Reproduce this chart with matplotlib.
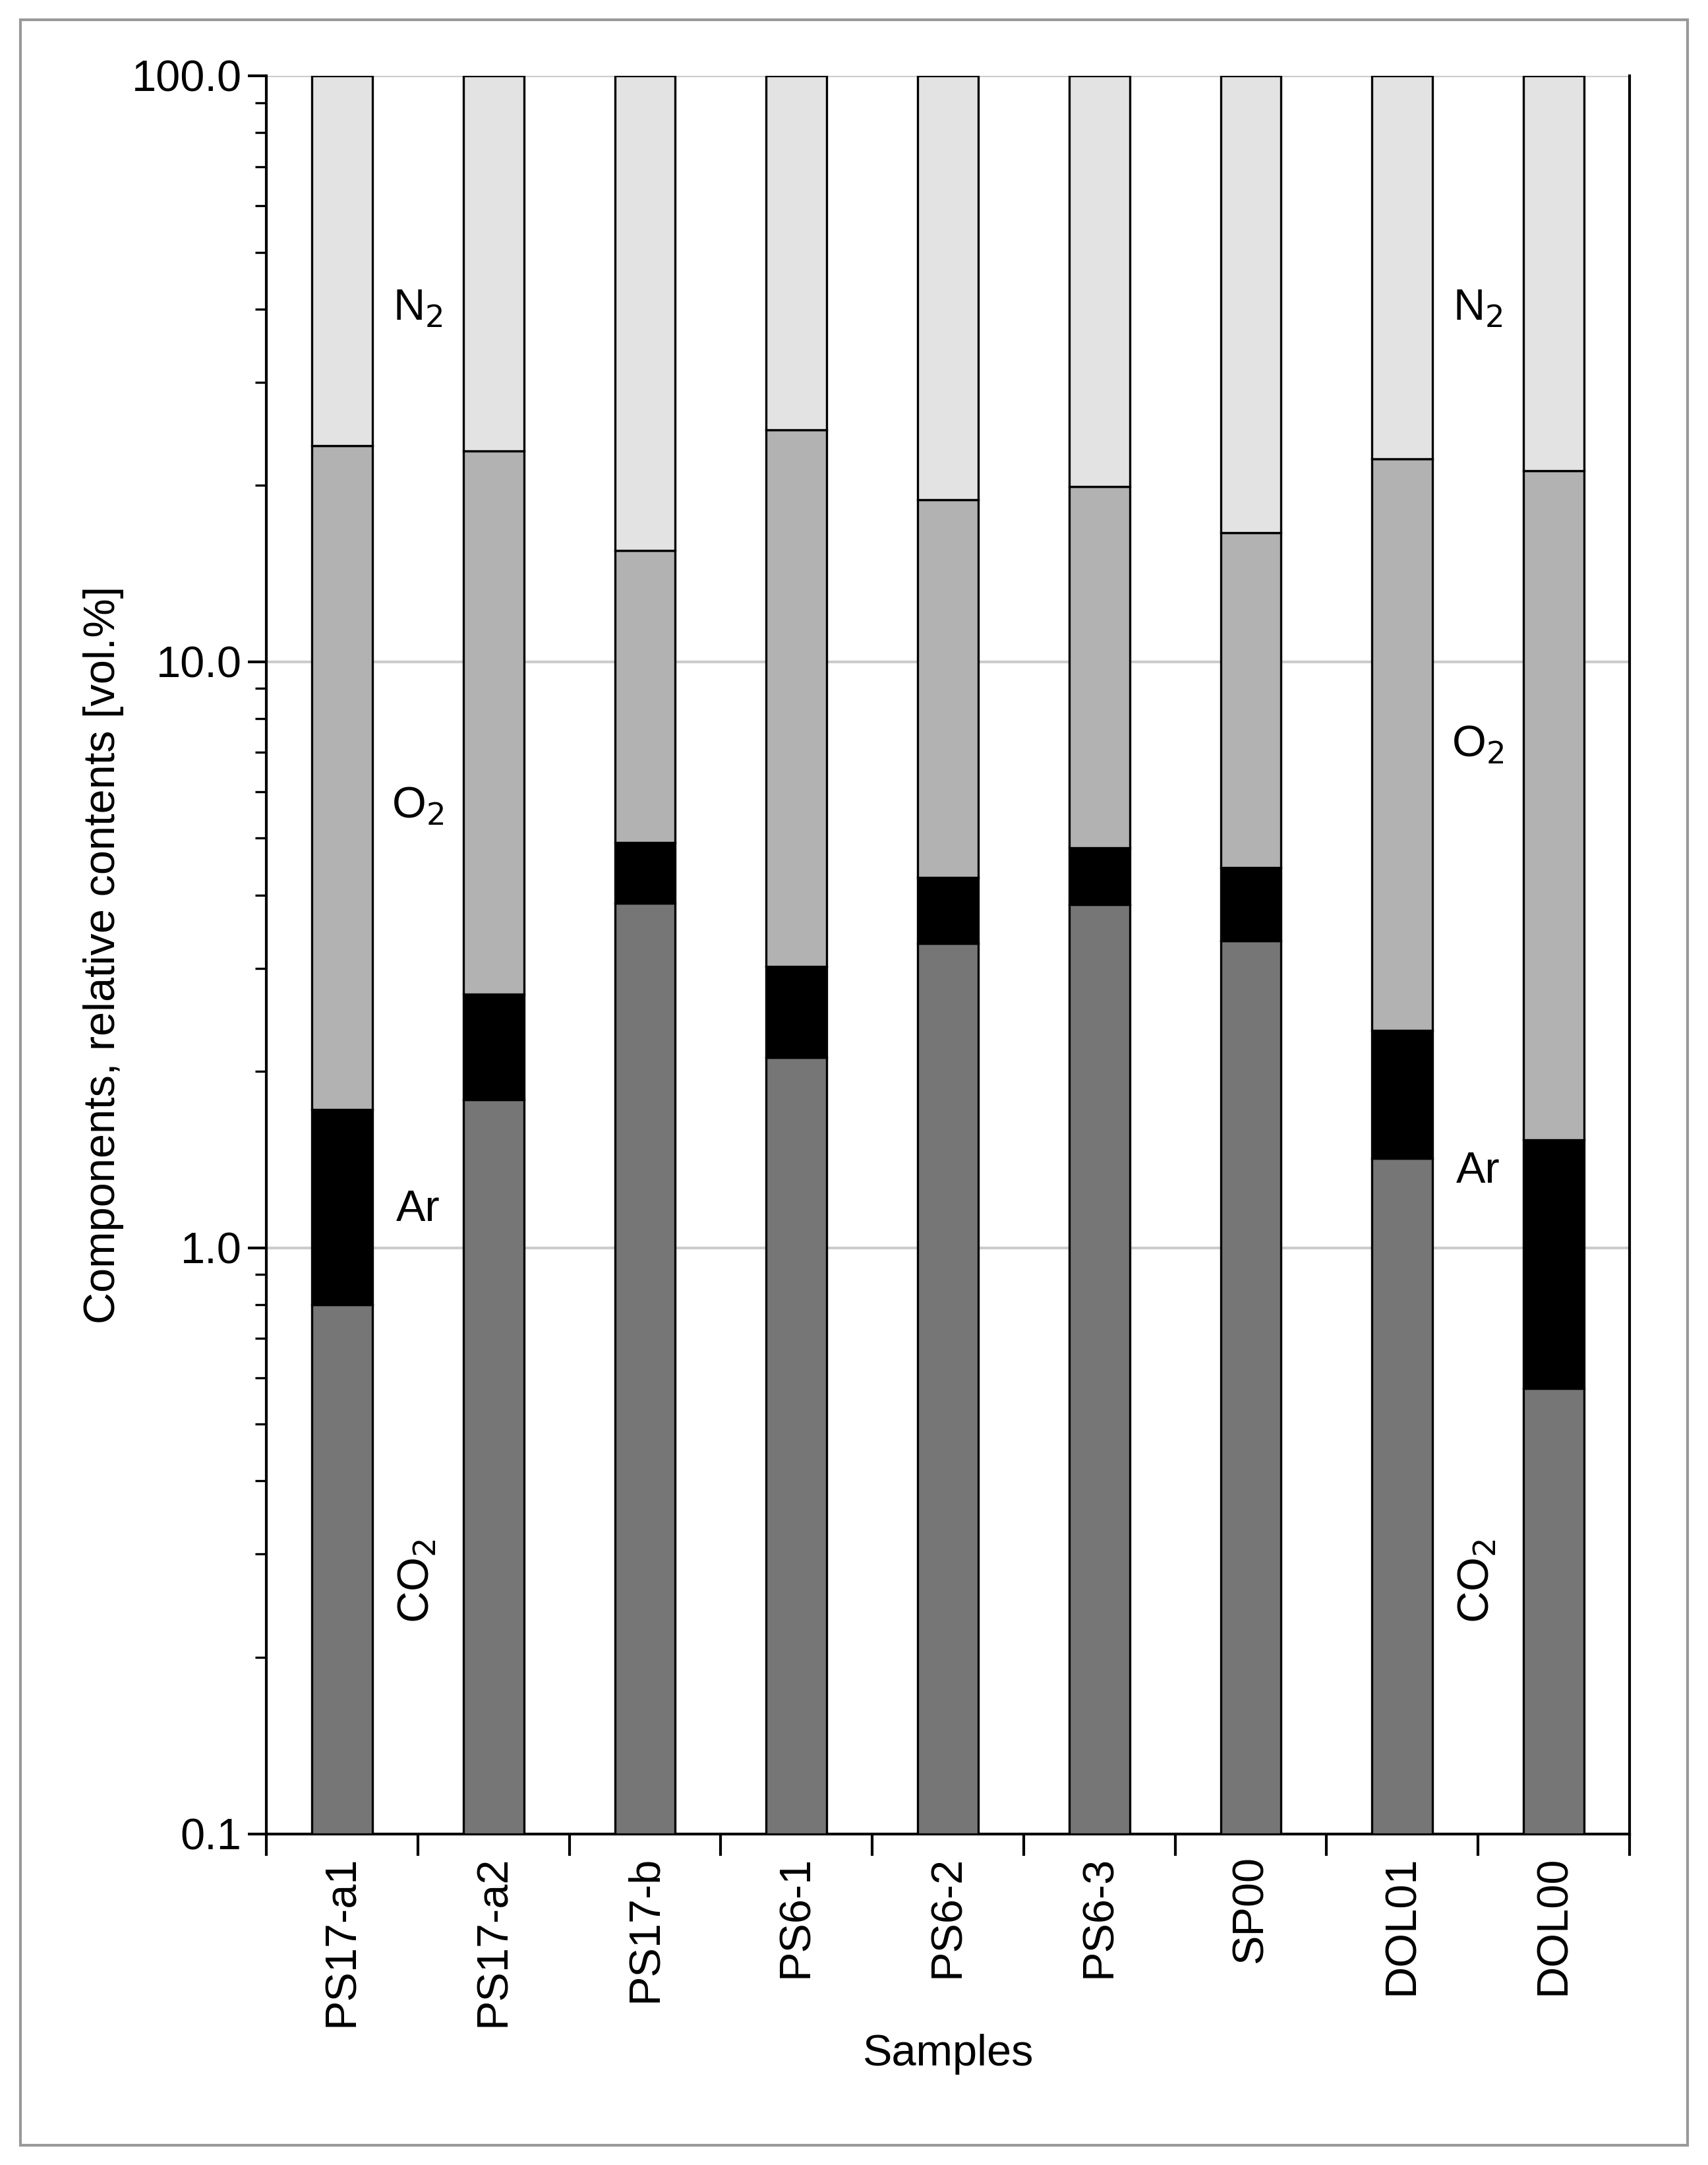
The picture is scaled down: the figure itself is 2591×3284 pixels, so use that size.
import matplotlib
matplotlib.use("Agg")
import matplotlib.pyplot as plt
from matplotlib.patches import Rectangle
from matplotlib.ticker import LogLocator, FixedLocator, NullFormatter
import numpy as np

plt.rcParams["font.family"] = "Liberation Sans"

SAMPLES = ["PS17-a1", "PS17-a2", "PS17-b", "PS6-1", "PS6-2", "PS6-3", "SP00", "DOL01", "DOL00"]
# cumulative tops of each stacked component (vol.%)
CO2_TOP = [0.80, 1.79, 3.87, 2.11, 3.31, 3.85, 3.34, 1.42, 0.575]
AR_TOP = [1.72, 2.71, 4.92, 3.02, 4.29, 4.81, 4.46, 2.35, 1.53]
O2_TOP = [23.4, 22.9, 15.5, 24.9, 18.9, 19.9, 16.6, 22.2, 21.2]
N2_TOP = [100.0] * 9

COLORS = ["#767676", "#000000", "#b2b2b2", "#e3e3e3"]

fig = plt.figure(figsize=(12.955, 16.42), dpi=200)
ax = fig.add_axes([0.156, 0.153, 0.798, 0.812])
x = np.arange(len(SAMPLES))
bottom = np.full(len(SAMPLES), 0.1)
for tops, color in zip([CO2_TOP, AR_TOP, O2_TOP, N2_TOP], COLORS):
    tops = np.array(tops)
    ax.bar(x, tops - bottom, bottom=bottom, width=0.4, color=color,
           edgecolor="black", linewidth=1.2, zorder=3)
    bottom = tops

ax.set_yscale("log")
ax.set_ylim(0.1, 100)
ax.set_xlim(-0.5, len(SAMPLES) - 0.5)
ax.set_yticks([0.1, 1, 10, 100])
ax.set_yticklabels(["0.1", "1.0", "10.0", "100.0"])
ax.yaxis.set_minor_locator(LogLocator(base=10, subs=np.arange(2, 10)))
ax.yaxis.set_minor_formatter(NullFormatter())
ax.tick_params(axis="y", which="major", length=10, width=1.5, labelsize=24)
ax.tick_params(axis="y", which="minor", length=6, width=1.2)
ax.grid(axis="y", which="major", color="#cccccc", linewidth=1.5, zorder=0)

ax.set_xticks(x)
ax.set_xticklabels(SAMPLES, rotation=90, fontsize=24)
ax.tick_params(axis="x", which="major", length=0, pad=12)
ax.xaxis.set_minor_locator(FixedLocator(np.arange(-0.5, len(SAMPLES), 1)))
ax.tick_params(axis="x", which="minor", length=12, width=1.5)

ax.spines["top"].set_visible(False)
for s in ["left", "right", "bottom"]:
    ax.spines[s].set_linewidth(1.5)

ax.set_ylabel("Components, relative contents [vol.%]", fontsize=24)
ax.set_xlabel("Samples", fontsize=24)

for xp, ys in [(0.5, (40, 5.66, 1.16, 0.27)), (7.5, (40, 7.2, 1.35, 0.27))]:
    ax.text(xp, ys[0], "N$_2$", ha="center", va="center", fontsize=24)
    ax.text(xp, ys[1], "O$_2$", ha="center", va="center", fontsize=24)
    ax.text(xp, ys[2], "Ar", ha="center", va="center", fontsize=24)
    ax.text(xp, ys[3], "CO$_2$", ha="center", va="center", fontsize=24, rotation=90)

fig.patches.append(Rectangle((0.012, 0.009), 0.976, 0.982, transform=fig.transFigure,
                             fill=False, edgecolor="#999999", linewidth=1.5))
fig.savefig("out.png", dpi=200)
